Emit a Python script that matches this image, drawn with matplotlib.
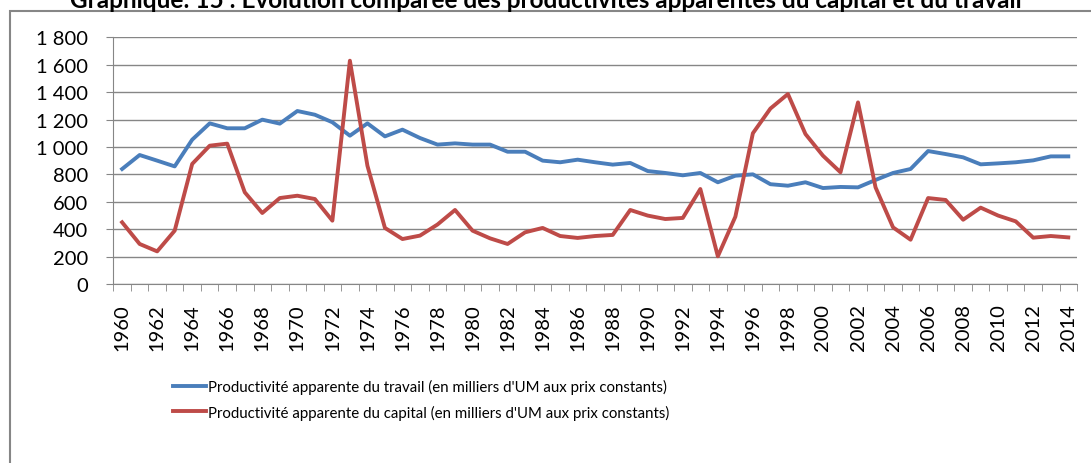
from matplotlib import pyplot as plt
from matplotlib.patches import Rectangle
from matplotlib.ticker import FuncFormatter
import numpy as np

plt.rcParams['font.family'] = ['Lato', 'DejaVu Sans']

years = list(range(1960, 2015))

# productivite apparente du travail
travail = [839, 941, 900, 858, 1053, 1172, 1136, 1136, 1199, 1170,
           1262, 1235, 1180, 1082, 1172, 1077, 1126, 1065, 1017, 1026,
           1017, 1017, 965, 965, 900, 888, 907, 888, 871, 883,
           824, 810, 793, 810, 742, 790, 800, 728, 717, 742,
           700, 708, 705, 759, 810, 839, 970, 948, 924, 873,
           880, 888, 902, 931, 931]

# productivite apparente du capital
capital = [450, 292, 238, 389, 876, 1009, 1024, 669, 518, 627,
           644, 620, 462, 1629, 863, 409, 328, 353, 434, 540,
           389, 333, 292, 377, 409, 350, 336, 350, 358, 540,
           499, 474, 482, 693, 202, 491, 1100, 1280, 1386, 1094,
           936, 815, 1325, 705, 413, 323, 627, 613, 469, 557,
           499, 457, 338, 350, 340]

lab_travail = "Productivité apparente du travail (en milliers d'UM aux prix constants)"
lab_capital = "Productivité apparente du capital (en milliers d'UM aux prix constants)"
titre = "Graphique: 15 : Evolution comparée des productivités apparentes du capital et du travail"

fig = plt.figure(figsize=(10.91, 4.64), dpi=100)
ax = fig.add_axes([0.1039, 0.3858, 0.8833, 0.5317])

x = np.arange(len(years))
ax.plot(x, travail, color='#4a7ebb', lw=2.8, label=lab_travail, solid_joinstyle='round')
ax.plot(x, capital, color='#be4b48', lw=2.8, label=lab_capital, solid_joinstyle='round')

ax.set_xlim(-0.5, len(years) - 0.5)
ax.set_ylim(0, 1800)
ax.set_yticks(range(0, 1801, 200))
ax.yaxis.set_major_formatter(FuncFormatter(lambda v, p: '{:,}'.format(int(v)).replace(',', ' ')))
ax.grid(axis='y', color='#868686', lw=1)
ax.set_axisbelow(True)

ax.set_xticks(x[::2])
ax.set_xticklabels([str(y) for y in years[::2]], rotation=90)
ax.set_xticks(np.arange(-0.5, len(years)), minor=True)
ax.tick_params(axis='x', which='major', length=0, pad=14, labelsize=14.5)
ax.tick_params(axis='x', which='minor', length=5, color='#868686')
ax.tick_params(axis='y', length=5, color='#868686', labelsize=14.5, pad=13)

for s in ['top', 'right']:
    ax.spines[s].set_visible(False)
for s in ['left', 'bottom']:
    ax.spines[s].set_color('#868686')

ax.legend(loc='center left', bbox_to_anchor=(0.1586, 0.137), bbox_transform=fig.transFigure,
          frameon=False, fontsize=10.8, handlelength=2.2, handletextpad=0.1,
          labelspacing=0.7, borderpad=0, borderaxespad=0)

fig.text(0.50, 0.983, titre, ha='center', va='baseline', fontsize=17.5, fontweight='bold')

fig.patches.append(Rectangle((10 / 1091, -0.05), 1.2, 1 - 12 / 464 + 0.05,
                             transform=fig.transFigure, fill=False,
                             edgecolor='#868686', lw=1.5))

fig.savefig('out.png', dpi=100)
